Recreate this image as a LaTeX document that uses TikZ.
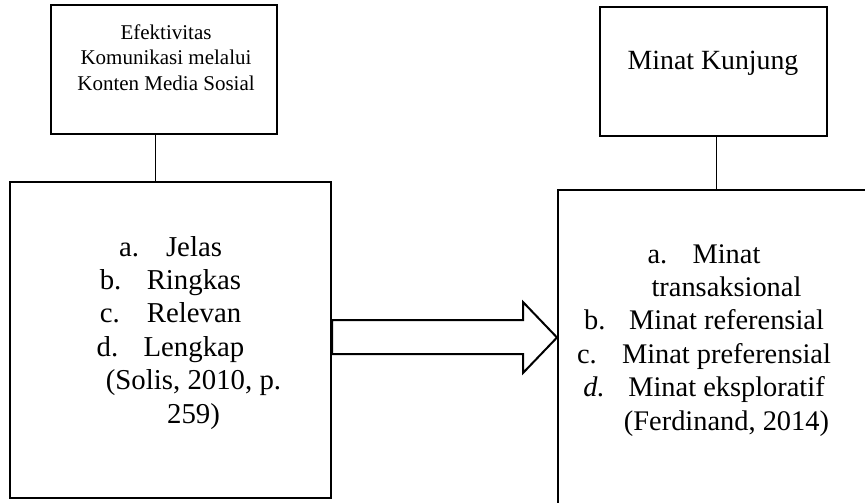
\documentclass[tikz,border=0pt]{standalone}
\usepackage{fontspec}
\setmainfont{Liberation Serif}
\tikzset{
  kotak/.style={draw,line width=2pt,rectangle,inner sep=0pt},
  tipis/.style={line width=0.9pt},
  panah/.style={draw,line width=2pt,line join=miter,fill=white}
}
\newcommand{\butir}[2][47pt]{\makebox[#1][l]{#2}}

\begin{document}
\begin{tikzpicture}[x=1pt,y=-1pt]
	%		\draw[thin,color=gray!20](0,0)grid[step=50](865,503);
	\useasboundingbox (0,0) rectangle (865,503);
	\node[kotak,minimum width=226pt,minimum height=129pt] (efek) at (164,69.5) {};
	\node[kotak,minimum width=227pt,minimum height=129pt] (minat) at (713.5,71.5) {};
	\node[kotak,minimum width=321pt,minimum height=316pt] (dimefek) at (170.5,340) {};
	\node[kotak,minimum width=340pt,minimum height=340pt,anchor=north west] (dimminat) at (557,189) {};
	\node[font=\fontsize{21}{25.5}\selectfont,align=center,anchor=base] (efekteks) at (166,90) {Efektivitas\\Komunikasi melalui\\Konten Media Sosial};
	\node[font=\fontsize{27.8}{32}\selectfont,anchor=base] (minatteks) at (713,70) {Minat Kunjung};
	\node[font=\fontsize{28.8}{33.4}\selectfont,align=center,anchor=base] (efekisi) at (170.5,423) {\butir{a.}Jelas\\\butir{b.}Ringkas\\\butir{c.}Relevan\\\butir{d.}Lengkap\\\hspace*{46pt}(Solis, 2010, p.\\\hspace*{46pt}259)};
	\node[font=\fontsize{28.4}{33.4}\selectfont,align=center,anchor=base] (minatisi) at (704,430) {\butir[45pt]{a.}Minat\\\hspace*{45pt}transaksional\\\butir[45pt]{b.}Minat referensial\\\butir[45pt]{c.}Minat preferensial\\\butir[45pt]{\textit{d.}}Minat eksploratif\\\hspace*{45pt}(Ferdinand, 2014)};
	\draw[tipis]([xshift=-9pt]efek.south)--([xshift=-9pt]efek.south|-dimefek.north);
	\draw[tipis]([xshift=2.5pt]minat.south)--([xshift=2.5pt]minat.south|-dimminat.north);
	\draw[panah](dimefek.east|-0,320)--(523,320)--(523,302)--(dimminat.west|-0,337.5)--(523,373)--(523,354)--(dimefek.east|-0,354)--cycle;
\end{tikzpicture}
\end{document}
